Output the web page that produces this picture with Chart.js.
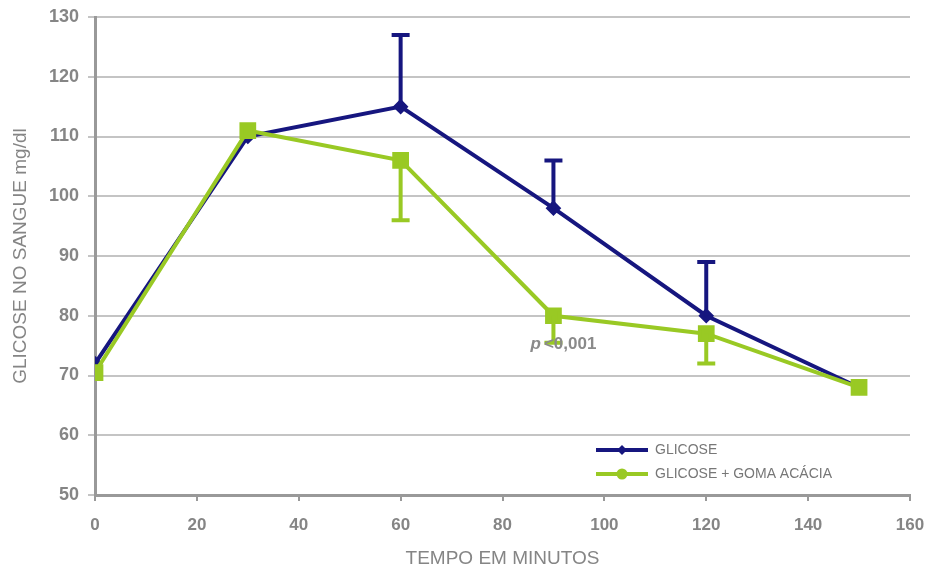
<!DOCTYPE html>
<html>
<head>
<meta charset="utf-8">
<script src="https://cdn.jsdelivr.net/npm/chart.js@4.4.0/dist/chart.umd.min.js"></script>
<style>
  html, body { margin: 0; padding: 0; background: #fff; }
  #wrap { width: 928px; height: 574px; }
</style>
</head>
<body>
<div id="wrap"><canvas id="grafico"></canvas></div>
<script>
const tempos = [0, 30, 60, 90, 120, 150]
const glicose = [72, 110, 115, 98, 80, 68]
const glicoseGoma = [70.5, 111, 106, 80, 77, 68]
// barras de erro: glicose para cima, goma para baixo
const glicoseErroSup = [null, null, 127, 106, 89, null]
const gomaErroInf = [null, null, 96, 75.5, 72, null]
const ticksY = [50, 60, 70, 80, 90, 100, 110, 120, 130]
const ticksX = [0, 20, 40, 60, 80, 100, 120, 140, 160]

const azul = '#16167f'
const verde = '#99c924'
const cinza = '#858585'
const fonte = '"Liberation Sans", Arial, sans-serif'

function pontos(valores) {
  return tempos.map((t, i) => ({ x: t, y: valores[i] }))
}

const barrasErro = {
  id: 'barrasErro',
  afterDatasetsDraw(chart) {
    const ctx = chart.ctx
    const x = chart.scales.x
    const y = chart.scales.y
    const lista = [[glicose, glicoseErroSup, azul], [glicoseGoma, gomaErroInf, verde]]
    ctx.save()
    lista.forEach(([vals, erros, cor]) => {
      ctx.strokeStyle = cor
      ctx.lineWidth = 4
      erros.forEach((e, i) => {
        if (e == null) return
        const px = x.getPixelForValue(tempos[i])
        const y0 = y.getPixelForValue(vals[i])
        const y1 = y.getPixelForValue(e)
        ctx.beginPath()
        ctx.moveTo(px, y0)
        ctx.lineTo(px, y1)
        ctx.moveTo(px - 9, y1)
        ctx.lineTo(px + 9, y1)
        ctx.stroke()
      })
    })
    ctx.restore()
  }
}

const anotacoes = {
  id: 'anotacoes',
  afterDraw(chart) {
    const ctx = chart.ctx
    const x = chart.scales.x
    const y = chart.scales.y
    ctx.save()
    // texto p<0,001
    ctx.fillStyle = '#8a8a8a'
    ctx.textBaseline = 'middle'
    ctx.font = 'italic bold 17px ' + fonte
    const tx = x.getPixelForValue(85.5)
    const ty = y.getPixelForValue(75.3)
    ctx.fillText('p', tx, ty)
    ctx.font = 'bold 17px ' + fonte
    ctx.fillText('<0,001', tx + ctx.measureText('p').width + 3, ty)

    // legenda
    const itens = [
      { texto: 'GLICOSE', cor: azul, estilo: 'diamante' },
      { texto: 'GLICOSE + GOMA ACÁCIA', cor: verde, estilo: 'quadrado' }
    ]
    const lx = 596, ly = 450
    itens.forEach((it, k) => {
      const yy = ly + k * 24
      ctx.strokeStyle = it.cor
      ctx.lineWidth = 4
      ctx.beginPath()
      ctx.moveTo(lx, yy)
      ctx.lineTo(lx + 52, yy)
      ctx.stroke()
      ctx.fillStyle = it.cor
      ctx.beginPath()
      if (it.estilo === 'diamante') {
        ctx.moveTo(lx + 26, yy - 5)
        ctx.lineTo(lx + 31, yy)
        ctx.lineTo(lx + 26, yy + 5)
        ctx.lineTo(lx + 21, yy)
      } else {
        ctx.arc(lx + 26, yy, 5.5, 0, Math.PI * 2)
      }
      ctx.fill()
      ctx.fillStyle = '#777'
      ctx.font = '14px ' + fonte
      ctx.fillText(it.texto, lx + 59, yy)
    })
    ctx.restore()
  }
}

const grafico = new Chart(document.getElementById('grafico'), {
  type: 'line',
  data: {
    datasets: [{
      label: 'GLICOSE',
      data: pontos(glicose),
      borderColor: azul,
      backgroundColor: azul,
      borderWidth: 4,
      pointStyle: 'rectRot',
      pointRadius: 5,
      order: 1,
      tension: 0
    }, {
      label: 'GLICOSE + GOMA ACÁCIA',
      data: pontos(glicoseGoma),
      borderColor: verde,
      backgroundColor: verde,
      borderWidth: 4,
      pointStyle: 'rect',
      pointRadius: 9,
      order: 0,
      tension: 0
    }]
  },
  options: {
    responsive: true,
    maintainAspectRatio: false,
    animation: false,
    layout: { padding: { top: 17, right: 18, left: 0, bottom: 0 } },
    plugins: {
      legend: { display: false },
      tooltip: { enabled: false }
    },
    scales: {
      x: {
        type: 'linear',
        min: 0,
        max: 160,
        afterBuildTicks: axis => { axis.ticks = ticksX.map(v => ({ value: v })) },
        afterFit: axis => {
          axis.height = 79
          axis.paddingLeft = 0
          axis.paddingRight = 0
        },
        grid: { drawOnChartArea: false, tickLength: 6, color: '#999', lineWidth: 2 },
        border: { color: '#999', width: 3 },
        ticks: { color: cinza, padding: 14, font: { size: 17, weight: 'bold', family: fonte }, maxRotation: 0 },
        title: {
          display: true,
          text: 'TEMPO EM MINUTOS',
          color: cinza,
          padding: { top: 6 },
          font: { size: 19, family: fonte }
        }
      },
      y: {
        min: 50,
        max: 130,
        afterBuildTicks: axis => { axis.ticks = ticksY.map(v => ({ value: v })) },
        afterFit: axis => {
          axis.width = 95
          axis.paddingTop = 0
          axis.paddingBottom = 0
        },
        grid: { color: '#c4c4c4', lineWidth: 2, tickLength: 7 },
        border: { color: '#999', width: 3 },
        ticks: { color: cinza, padding: 9, font: { size: 18, weight: 'bold', family: fonte } },
        title: {
          display: true,
          text: 'GLICOSE NO SANGUE mg/dl',
          color: cinza,
          padding: { top: 9, bottom: 0 },
          font: { size: 19, family: fonte }
        }
      }
    }
  },
  plugins: [barrasErro, anotacoes]
})
</script>
</body>
</html>
